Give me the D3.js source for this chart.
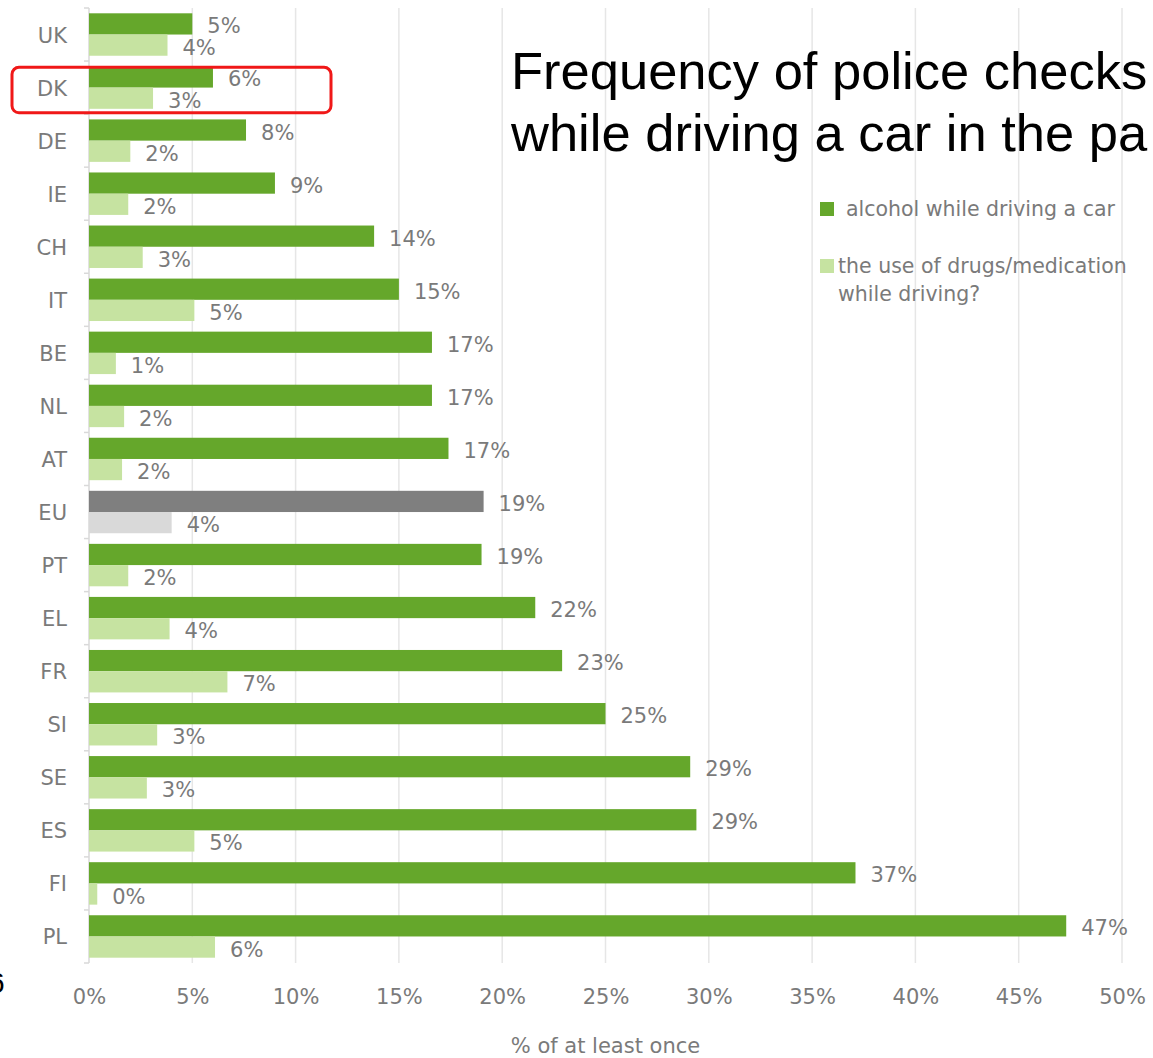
<!DOCTYPE html>
<html>
<head>
<meta charset="utf-8">
<script src="https://cdn.jsdelivr.net/npm/d3@7"></script>
<style>
  body { margin: 0; background: #fff; }
  svg { display: block; }
  text { font-family: "DejaVu Sans", Verdana, sans-serif; fill: #7a7a7a; }
  .title { font-family: "Liberation Sans", Arial, sans-serif; fill: #000; }
</style>
</head>
<body>
<svg></svg>
<script>
// countries, top to bottom
const countries = ['UK', 'DK', 'DE', 'IE', 'CH', 'IT', 'BE', 'NL', 'AT', 'EU',
  'PT', 'EL', 'FR', 'SI', 'SE', 'ES', 'FI', 'PL'];

// % checked for alcohol while driving a car
const alcohol = [5.0, 6.0, 7.6, 9.0, 13.8, 15.0, 16.6, 16.6, 17.4, 19.1,
  19.0, 21.6, 22.9, 25.0, 29.1, 29.4, 37.1, 47.3];

// % checked for drugs / medication while driving
const drugs = [3.8, 3.1, 2.0, 1.9, 2.6, 5.1, 1.3, 1.7, 1.6, 4.0,
  1.9, 3.9, 6.7, 3.3, 2.8, 5.1, 0.4, 6.1];

const series = ['alcohol while driving a car', 'the use of drugs/medication while driving?'];
const xTicks = [0, 5, 10, 15, 20, 25, 30, 35, 40, 45, 50];
// title runs off the right edge of the picture, as in the source
const titleLines = ['Frequency of police checks', 'while driving a car in the pa'];

const width = 1153;
const height = 1058;

const svg = d3.select('svg')
  .attr('width', width)
  .attr('height', height)
  .attr('viewBox', `0 0 ${width} ${height}`);

const rows = countries.map((c, i) => ({ country: c, values: [alcohol[i], drugs[i]] }));

// scales
const scaleX = d3.scaleLinear()
  .domain([0, 50])
  .range([89, 1122]);

const scaleY = d3.scaleBand()
  .domain(countries)
  .range([8, 963])
  .paddingInner(0.2)
  .paddingOuter(0.1);

const scaleSub = d3.scaleBand()
  .domain([0, 1])
  .range([0, scaleY.bandwidth()]);

const colors = [['#65a72b', '#c6e3a1'], ['#7f7f7f', '#d9d9d9']];
const colorFor = (country, k) => colors[country === 'EU' ? 1 : 0][k];

// grid lines
svg.append('g')
  .attr('class', 'grid')
  .selectAll('line')
  .data(xTicks.slice(1))
  .join('line')
  .attr('x1', d => scaleX(d))
  .attr('x2', d => scaleX(d))
  .attr('y1', 8)
  .attr('y2', 963)
  .attr('stroke', '#e6e6e6')
  .attr('stroke-width', 1.5);

// x axis labels
const axisX = d3.axisBottom(scaleX)
  .tickValues(xTicks)
  .tickFormat(d => d + '%')
  .tickSize(0)
  .tickPadding(26);

const axisXGroup = svg.append('g')
  .attr('transform', 'translate(0, 963)')
  .call(axisX);
axisXGroup.select('.domain').remove();
axisXGroup.selectAll('text')
  .attr('font-size', 21)
  .attr('fill', '#7a7a7a')
  .style('font-family', '"DejaVu Sans", Verdana, sans-serif');

// y axis: line, ticks between categories, labels
const axisY = svg.append('g').attr('class', 'y-axis');
axisY.append('line')
  .attr('x1', 89).attr('x2', 89)
  .attr('y1', scaleY.range()[0]).attr('y2', scaleY.range()[1])
  .attr('stroke', '#d9d9d9')
  .attr('stroke-width', 1.5);

const step = scaleY.step();
const boundaries = d3.range(countries.length + 1)
  .map(i => scaleY.range()[0] + i * step);
axisY.selectAll('line.tick')
  .data(boundaries)
  .join('line')
  .attr('class', 'tick')
  .attr('x1', 84).attr('x2', 89)
  .attr('y1', d => d).attr('y2', d => d)
  .attr('stroke', '#d9d9d9')
  .attr('stroke-width', 1.5);

axisY.selectAll('text')
  .data(countries)
  .join('text')
  .attr('x', 67)
  .attr('y', d => scaleY(d) + scaleY.bandwidth() / 2 + 8)
  .attr('text-anchor', 'end')
  .attr('font-size', 21)
  .text(d => d);

// bars
const groups = svg.selectAll('g.country')
  .data(rows)
  .join('g')
  .attr('class', 'country')
  .attr('transform', d => `translate(0, ${scaleY(d.country)})`);

groups.selectAll('rect')
  .data(d => d.values.map((v, k) => ({ country: d.country, v, k })))
  .join('rect')
  .attr('x', scaleX(0))
  .attr('y', d => scaleSub(d.k))
  .attr('width', d => scaleX(d.v) - scaleX(0))
  .attr('height', scaleSub.bandwidth())
  .attr('fill', d => colorFor(d.country, d.k));

groups.selectAll('text')
  .data(d => d.values.map((v, k) => ({ country: d.country, v, k })))
  .join('text')
  .attr('x', d => scaleX(d.v) + 15)
  .attr('y', d => scaleSub(d.k) + scaleSub.bandwidth() / 2 + 9.5)
  .attr('font-size', 21)
  .text(d => Math.round(d.v) + '%');

// x axis title
svg.append('text')
  .attr('x', (scaleX(0) + scaleX(50)) / 2)
  .attr('y', 1053)
  .attr('text-anchor', 'middle')
  .attr('font-size', 21)
  .text('% of at least once');

// legend
const legend = svg.append('g').attr('class', 'legend');
legend.append('rect')
  .attr('x', 820).attr('y', 202).attr('width', 14).attr('height', 14)
  .attr('fill', colors[0][0]);
legend.append('text')
  .attr('x', 846).attr('y', 216)
  .attr('font-size', 20.5)
  .text(series[0]);
legend.append('rect')
  .attr('x', 820).attr('y', 259).attr('width', 14).attr('height', 14)
  .attr('fill', colors[0][1]);
legend.append('text')
  .attr('x', 838).attr('y', 273)
  .attr('font-size', 20.5)
  .text('the use of drugs/medication');
legend.append('text')
  .attr('x', 838).attr('y', 301)
  .attr('font-size', 20.5)
  .text('while driving?');

// overlaid title
svg.append('g')
  .selectAll('text')
  .data(titleLines)
  .join('text')
  .attr('class', 'title')
  .attr('x', 511)
  .attr('y', (d, i) => 89 + i * 62)
  .attr('font-size', 52.5)
  .text(d => d);

// highlight box round DK
svg.append('rect')
  .attr('x', 12)
  .attr('y', scaleY('DK') + 1)
  .attr('width', 319)
  .attr('height', scaleY.bandwidth() + 3)
  .attr('rx', 7)
  .attr('fill', 'none')
  .attr('stroke', '#f01818')
  .attr('stroke-width', 3);

// clipped glyph at the left edge
svg.append('text')
  .attr('class', 'title')
  .attr('x', -12)
  .attr('y', 993)
  .attr('font-size', 30)
  .text('6');
</script>
</body>
</html>
